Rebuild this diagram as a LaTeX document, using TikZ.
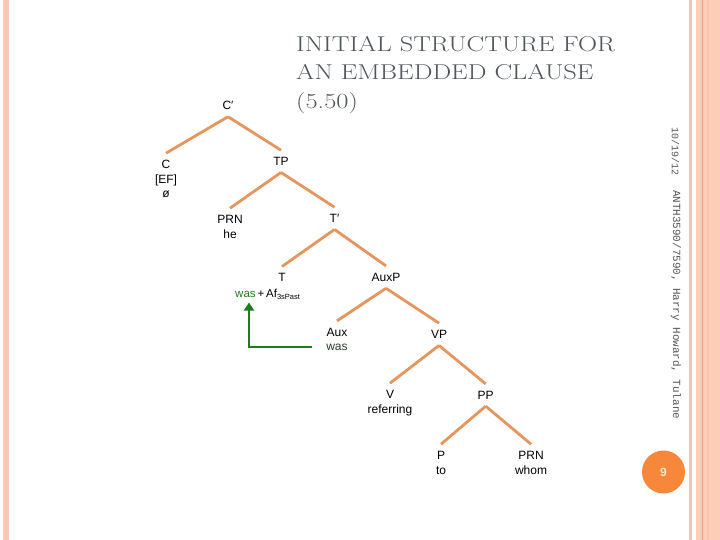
\documentclass[tikz,border=0pt]{standalone}
\usepackage{fontspec}
\usetikzlibrary{arrows.meta}
\newfontfamily\lsans{Liberation Sans}
\newfontfamily\lmono{Liberation Mono}
\definecolor{branch}{HTML}{E6955C}
\definecolor{mvgreen}{HTML}{1E7B1E}
\definecolor{auxwas}{HTML}{2A3A2A}
\definecolor{titlegray}{HTML}{50555B}
\definecolor{footgray}{HTML}{555555}
\definecolor{stripA}{HTML}{F7C7B5}
\definecolor{stripB}{HTML}{F2C4BA}
\definecolor{stripC}{HTML}{FDCDB8}
\definecolor{stripD}{HTML}{E9A27E}
\definecolor{stripE}{HTML}{FAC2AA}
\definecolor{pgorange}{HTML}{F7873A}
\definecolor{pgtext}{HTML}{FFEBC4}
\tikzset{
  tn/.style={font=\lsans\fontsize{12}{14.6}\selectfont, align=center, inner xsep=0pt, inner ysep=6.8pt, anchor=north},
  br/.style={draw=branch, line width=2.8pt},
  mv/.style={draw=mvgreen, line width=2pt, -{Triangle[width=10pt,length=8pt]}},
  foot/.style={text=footgray, rotate=-90, anchor=west, inner sep=0pt}
}
\begin{document}
\begin{tikzpicture}[x=1pt,y=-1pt]
\useasboundingbox (0,0) rectangle (720,540);
% side strips
\fill[stripA] (3,0) rectangle (9,540);
\fill[stripB] (689,0) rectangle (692,540);
\fill[stripC] (696,0) rectangle (720,540);
\fill[stripE] (707,0) rectangle (709,540);
\fill[stripD] (701.5,0) rectangle (702.7,540);
% title
\node[anchor=base west, inner sep=0pt, text=titlegray, font=\fontsize{21.5}{28.5}\selectfont] (title) at (296,108.5)
  {\scalebox{1.23}[1]{\vbox{\baselineskip=28.5pt\hbox{INITIAL STRUCTURE FOR}\hbox{AN EMBEDDED CLAUSE}\hbox{(5.50)}}}};
% tree nodes
\node[tn] (cbar) at (228,94.2) {C′};
\node[tn] (c)    at (166,153.2) {C\\{}[EF]\\ø};
\node[tn] (tp)   at (281,150.2) {TP};
\node[tn] (prn)  at (230,208.2) {PRN\\he};
\node[tn] (tbar) at (334.5,207.2) {T′};
\node[tn] (t)    at (282,266.5) {T};
\node[tn] (auxp) at (386,265.9) {AuxP};
\node[tn] (aux)  at (337,320.9) {Aux\\{\color{auxwas}was}};
\node[tn] (vp)   at (439,323.2) {VP};
\node[tn] (v)    at (390,383.2) {V\\referring};
\node[tn] (pp)   at (485.7,383.9) {PP};
\node[tn] (p)    at (441,444.2) {P\\to};
\node[tn] (prnb) at (531,444.2) {PRN\\whom};
\node[anchor=base west, inner sep=0pt, font=\lsans\fontsize{11.5}{14}\selectfont] (tform) at (235,297)
  {{\color{mvgreen}was}\,+\,Af\raisebox{-2.6pt}{\fontsize{7.5}{8}\selectfont 3sPast}};
% branches
\draw[br] (cbar.south) -- (c.north);
\draw[br] (cbar.south) -- (tp.north);
\draw[br] (tp.south) -- (prn.north);
\draw[br] (tp.south) -- (tbar.north);
\draw[br] (tbar.south) -- (t.north);
\draw[br] (tbar.south) -- (auxp.north);
\draw[br] (auxp.south) -- (aux.north);
\draw[br] (auxp.south) -- (vp.north);
\draw[br] (vp.south) -- (v.north);
\draw[br] (vp.south) -- (pp.north);
\draw[br] (pp.south) -- (p.north);
\draw[br] (pp.south) -- (prnb.north);
% movement arrow
\coordinate (mvstart) at (311.7,346.7);
\coordinate (mvend) at (249,302.5);
\draw[mv] (mvstart) -| (mvend);
% footer
\node[foot, font=\lmono\fontsize{10}{11}\selectfont] (date) at (675.5,127) {10/19/12};
\node[foot, font=\lmono\fontsize{10.9}{12}\selectfont] (course) at (676,190) {ANTH3590/7590, Harry Howard, Tulane};
\node[circle, fill=pgorange, minimum size=43pt, inner sep=0pt, text=pgtext, font=\lsans\bfseries\fontsize{12}{14}\selectfont] (page) at (663.5,472) {9};
\end{tikzpicture}
\end{document}
